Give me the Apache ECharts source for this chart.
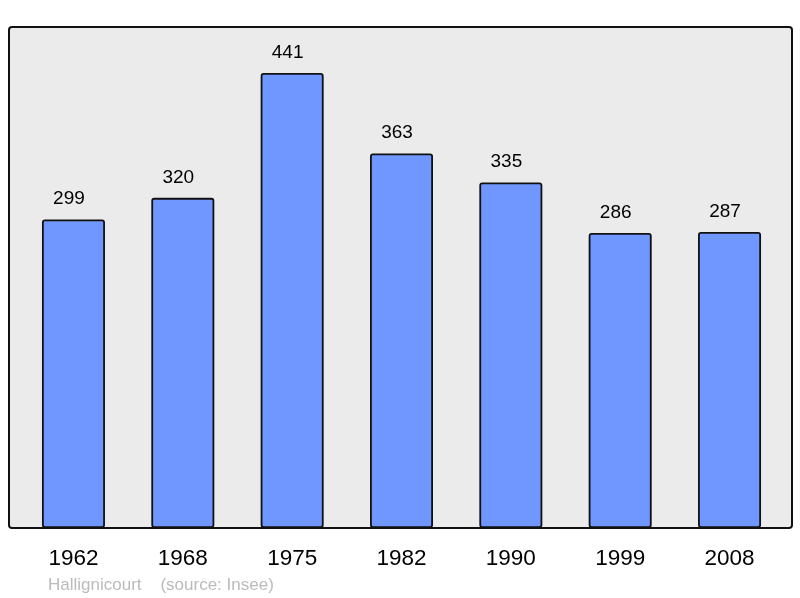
<!DOCTYPE html>
<html><head><meta charset="utf-8">
<script src="https://cdn.jsdelivr.net/npm/echarts@6/dist/echarts.min.js"></script>
<style>html,body{margin:0;padding:0;background:#fff}#c{width:800px;height:598px}</style>
</head><body><div id="c"></div>
<script>
const categories = ['1962','1968','1975','1982','1990','1999','2008'];
const population = [299, 320, 441, 363, 335, 286, 287];
const footer = 'Hallignicourt    (source: Insee)';

const chart = echarts.init(document.getElementById('c'), null, {renderer:'canvas'});
chart.setOption({
  animation: false,
  backgroundColor: '#ffffff',
  graphic: [
    {type:'rect', shape:{x:9, y:27, width:783, height:501, r:3}, style:{fill:'#ebebeb', stroke:'#111', lineWidth:2}, z:-10},
    {type:'text', left:48, top:577, style:{text: footer, fill:'#bbbbbb', font:'17px "Liberation Sans", Arial, sans-serif'}}
  ],
  grid: {left: 18.8, right: 15.8, top: 27, bottom: 70, containLabel:false},
  xAxis: {
    type:'category', data: categories,
    axisLine:{show:false}, axisTick:{show:false},
    axisLabel:{color:'#000', fontSize:22.5, fontFamily:'"Liberation Sans", Arial, sans-serif', margin:19}
  },
  yAxis: {type:'value', min:0, max:485.6, show:false, splitLine:{show:false}},
  series: [{
    type:'bar', data: population, barWidth: 63,
    itemStyle:{color:'#7096ff', borderColor:'#111', borderWidth:1.8, borderRadius:2},
    label:{show:true, position:'top', distance:11, offset:[-4.5,0], color:'#000', fontSize:19, fontFamily:'"Liberation Sans", Arial, sans-serif'}
  }]
});
</script></body></html>
